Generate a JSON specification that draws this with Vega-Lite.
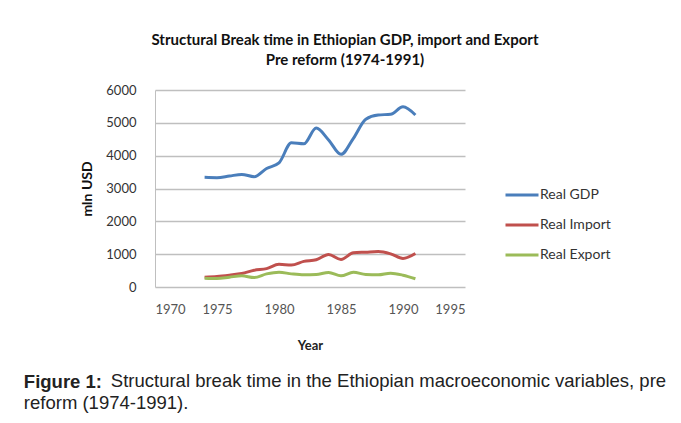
{
  "$schema": "https://vega.github.io/schema/vega-lite/v6.json",
  "background": "white",
  "padding": {"left": 23, "top": 33, "right": 5, "bottom": 5},
  "title": {
    "text": ["Structural Break time in Ethiopian  GDP, import and Export", "Pre reform (1974-1991)"],
    "font": "Lato", "fontSize": 15, "fontWeight": "bold", "color": "#111111",
    "anchor": "middle", "lineHeight": 20, "offset": 16, "dx": 0
  },
  "vconcat": [
    {
      "title": {
        "text": "Figure 1:", "subtitle": "reform (1974-1991).",
        "orient": "bottom", "anchor": "start",
        "font": "Liberation Sans", "fontSize": 18.5, "fontWeight": "bold", "color": "#222222",
        "subtitleFont": "Liberation Sans", "subtitleFontSize": 18.5, "subtitleColor": "#222222",
        "subtitlePadding": 3, "offset": -18, "dx": -57
      },
      "vconcat": [
        {
          "title": {
            "text": "Structural break time in the Ethiopian macroeconomic variables, pre",
            "orient": "bottom", "anchor": "start",
            "font": "Liberation Sans", "fontSize": 18.5, "fontWeight": "normal", "color": "#222222",
            "offset": 20, "dx": 30
          },
          "width": 310,
          "height": 197,
          "data": {
            "values": [
              {"year": 1974, "series": "Real GDP", "value": 3340},
              {"year": 1975, "series": "Real GDP", "value": 3330},
              {"year": 1976, "series": "Real GDP", "value": 3380},
              {"year": 1977, "series": "Real GDP", "value": 3430},
              {"year": 1978, "series": "Real GDP", "value": 3360},
              {"year": 1979, "series": "Real GDP", "value": 3610},
              {"year": 1980, "series": "Real GDP", "value": 3780},
              {"year": 1981, "series": "Real GDP", "value": 4390},
              {"year": 1982, "series": "Real GDP", "value": 4360},
              {"year": 1983, "series": "Real GDP", "value": 4840},
              {"year": 1984, "series": "Real GDP", "value": 4480},
              {"year": 1985, "series": "Real GDP", "value": 4040},
              {"year": 1986, "series": "Real GDP", "value": 4530},
              {"year": 1987, "series": "Real GDP", "value": 5110},
              {"year": 1988, "series": "Real GDP", "value": 5240},
              {"year": 1989, "series": "Real GDP", "value": 5260},
              {"year": 1990, "series": "Real GDP", "value": 5490},
              {"year": 1991, "series": "Real GDP", "value": 5240},
              {"year": 1974, "series": "Real Import", "value": 300},
              {"year": 1975, "series": "Real Import", "value": 320},
              {"year": 1976, "series": "Real Import", "value": 360},
              {"year": 1977, "series": "Real Import", "value": 410},
              {"year": 1978, "series": "Real Import", "value": 510},
              {"year": 1979, "series": "Real Import", "value": 560},
              {"year": 1980, "series": "Real Import", "value": 690},
              {"year": 1981, "series": "Real Import", "value": 670},
              {"year": 1982, "series": "Real Import", "value": 780},
              {"year": 1983, "series": "Real Import", "value": 830},
              {"year": 1984, "series": "Real Import", "value": 990},
              {"year": 1985, "series": "Real Import", "value": 840},
              {"year": 1986, "series": "Real Import", "value": 1040},
              {"year": 1987, "series": "Real Import", "value": 1060},
              {"year": 1988, "series": "Real Import", "value": 1080},
              {"year": 1989, "series": "Real Import", "value": 1010},
              {"year": 1990, "series": "Real Import", "value": 870},
              {"year": 1991, "series": "Real Import", "value": 1020},
              {"year": 1974, "series": "Real Export", "value": 270},
              {"year": 1975, "series": "Real Export", "value": 260},
              {"year": 1976, "series": "Real Export", "value": 300},
              {"year": 1977, "series": "Real Export", "value": 340},
              {"year": 1978, "series": "Real Export", "value": 290},
              {"year": 1979, "series": "Real Export", "value": 400},
              {"year": 1980, "series": "Real Export", "value": 450},
              {"year": 1981, "series": "Real Export", "value": 400},
              {"year": 1982, "series": "Real Export", "value": 370},
              {"year": 1983, "series": "Real Export", "value": 380},
              {"year": 1984, "series": "Real Export", "value": 440},
              {"year": 1985, "series": "Real Export", "value": 340},
              {"year": 1986, "series": "Real Export", "value": 450},
              {"year": 1987, "series": "Real Export", "value": 380},
              {"year": 1988, "series": "Real Export", "value": 370},
              {"year": 1989, "series": "Real Export", "value": 420},
              {"year": 1990, "series": "Real Export", "value": 360},
              {"year": 1991, "series": "Real Export", "value": 250}
            ]
          },
          "mark": {"type": "line", "interpolate": "monotone", "strokeWidth": 3},
          "encoding": {
            "x": {
              "field": "year", "type": "quantitative",
              "scale": {"domain": [1970, 1995], "nice": false, "zero": false},
              "axis": {
                "values": [1970, 1975, 1980, 1985, 1990, 1995], "format": "d",
                "title": "Year", "grid": false, "ticks": false, "domain": false,
                "labelFont": "Lato", "labelFontSize": 13, "labelColor": "#555555", "labelPadding": 16,
                "titleFont": "Lato", "titleFontSize": 13, "titleFontWeight": "bold", "titleColor": "#222222", "titlePadding": 23
              }
            },
            "y": {
              "field": "value", "type": "quantitative",
              "scale": {"domain": [0, 6000], "nice": false},
              "axis": {
                "values": [0, 1000, 2000, 3000, 4000, 5000, 6000], "format": "d",
                "title": "mln USD", "grid": true, "gridColor": "#bfbfbf", "gridWidth": 1.3,
                "ticks": false, "domain": true, "domainColor": "#bfbfbf",
                "labelFont": "Lato", "labelFontSize": 13, "labelColor": "#333333", "labelPadding": 19,
                "titleFont": "Lato", "titleFontSize": 14, "titleFontWeight": "bold", "titleColor": "#111111", "titlePadding": 11
              }
            },
            "color": {
              "field": "series", "type": "nominal",
              "scale": {"domain": ["Real GDP", "Real Import", "Real Export"], "range": ["#4a7ebb", "#c0504d", "#9bbb59"]},
              "legend": {
                "title": null, "orient": "none", "legendX": 349, "legendY": 97,
                "symbolType": "stroke", "symbolSize": 1089, "symbolStrokeWidth": 3,
                "clipHeight": 16, "rowPadding": 14, "labelOffset": 0, "padding": 0,
                "labelFont": "Lato", "labelFontSize": 14, "labelColor": "#333333"
              }
            }
          }
        }
      ]
    }
  ],
  "config": {"view": {"stroke": null}}
}
